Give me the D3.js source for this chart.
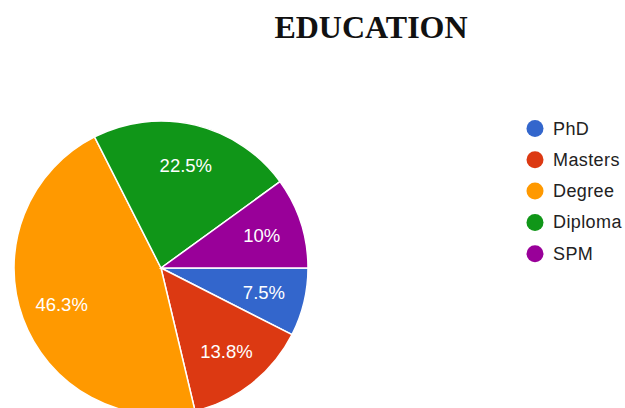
<!DOCTYPE html>
<html>
<head>
<meta charset="utf-8">
<script src="https://cdn.jsdelivr.net/npm/d3@7"></script>
<style>
  body { margin: 0; background: #fff; }
  svg { display: block; }
</style>
</head>
<body>
<div id="chart"></div>
<script>
// chart data
var categories = ["PhD", "Masters", "Degree", "Diploma", "SPM"];
var percentages = [7.5, 13.8, 46.3, 22.5, 10];
var sliceColors = ["#3366cc", "#dc3912", "#ff9900", "#109618", "#990099"];
var chartTitle = "EDUCATION";

var width = 625, height = 408;
var cx = 161, cy = 268, radius = 147;

var svg = d3.select("#chart").append("svg")
  .attr("width", width)
  .attr("height", height);

/** Title */
svg.append("text")
  .attr("x", 371)
  .attr("y", 38)
  .attr("text-anchor", "middle")
  .style("font-family", "'Liberation Serif', 'Times New Roman', serif")
  .style("font-weight", "bold")
  .style("font-size", "32px")
  .style("fill", "#111")
  .text(chartTitle);

var rows = categories.map(function(c, i) { return { name: c, value: percentages[i] }; });

var color = d3.scaleOrdinal().domain(categories).range(sliceColors);

// start at 3 o'clock, go clockwise, keep data order
var pie = d3.pie()
  .sort(null)
  .value(function(d) { return d.value; })
  .startAngle(Math.PI / 2)
  .endAngle(Math.PI / 2 + 2 * Math.PI);

var arc = d3.arc().innerRadius(0).outerRadius(radius);
var labelArc = d3.arc().innerRadius(radius * 0.72).outerRadius(radius * 0.72);

var g = svg.append("g").attr("transform", "translate(" + cx + "," + cy + ")");

var slices = g.selectAll(".slice")
  .data(pie(rows))
  .enter().append("g")
    .attr("class", "slice");

slices.append("path")
  .attr("d", arc)
  .attr("fill", function(d) { return color(d.data.name); })
  .attr("stroke", "#fff")
  .attr("stroke-width", 1.5);

slices.append("text")
  .attr("transform", function(d) { return "translate(" + labelArc.centroid(d) + ")"; })
  .attr("text-anchor", "middle")
  .attr("dominant-baseline", "central")
  .style("font-family", "'Liberation Sans', Arial, sans-serif")
  .style("font-size", "18.5px")
  .style("fill", "#fff")
  .text(function(d) { return d.data.value + "%"; });

/** Legend */
var legend = svg.append("g").attr("transform", "translate(535,128.5)");

var item = legend.selectAll(".item")
  .data(categories)
  .enter().append("g")
    .attr("class", "item")
    .attr("transform", function(d, i) { return "translate(0," + (i * 31.3) + ")"; });

item.append("circle")
  .attr("r", 8.5)
  .attr("fill", function(d) { return color(d); });

item.append("text")
  .attr("x", 18)
  .attr("dominant-baseline", "central")
  .style("font-family", "'Liberation Sans', Arial, sans-serif")
  .style("font-size", "18px")
  .style("letter-spacing", "0.4px")
  .style("fill", "#222")
  .text(function(d) { return d; });
</script>
</body>
</html>
